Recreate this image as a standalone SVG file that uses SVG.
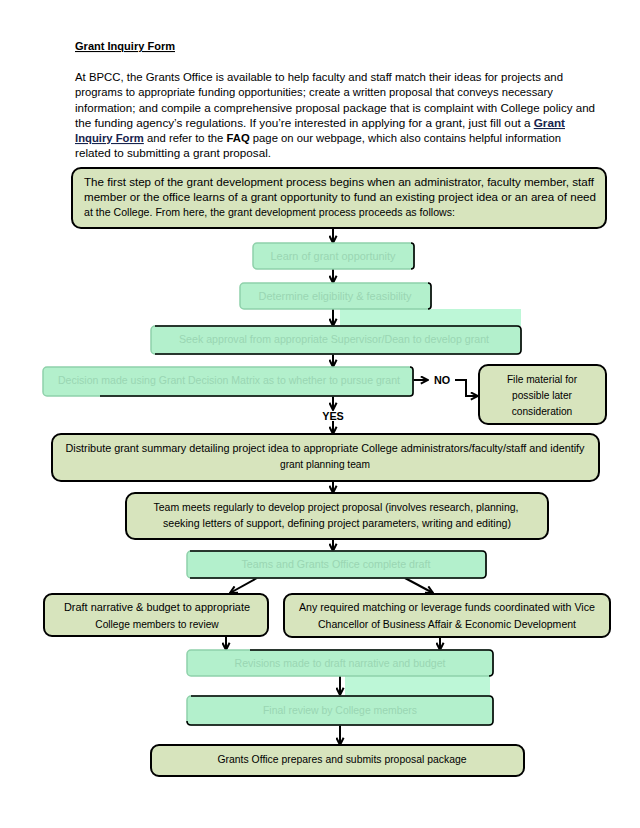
<svg xmlns="http://www.w3.org/2000/svg" width="640" height="828" viewBox="0 0 640 828">
<defs>
<marker id="ah" viewBox="0 0 10 10" refX="9" refY="5" markerWidth="9" markerHeight="9" markerUnits="userSpaceOnUse" orient="auto">
<path d="M1,1 L9,5 L1,9" fill="none" stroke="#000" stroke-width="2.2"/>
</marker>
<style>
.t{font-family:"Liberation Sans",Arial,sans-serif;font-size:10.8px;fill:#000}
.b{font-family:"Liberation Sans",Arial,sans-serif;font-size:10.2px;fill:#000;text-anchor:middle}
.m{font-family:"Liberation Sans",Arial,sans-serif;font-size:10.2px;fill:#9ad6b3;text-anchor:middle}
.olive{fill:#d7e4bd;stroke:#000;stroke-width:2}
.mint{fill:#b3f0cc;stroke:#8fd1aa;stroke-width:1.5}
.pale{fill:#bdf7d7}
.edge{fill:none;stroke:#000;stroke-width:1.6}
.c{fill:none;stroke:#000;stroke-width:2;marker-end:url(#ah)}
.lnk{font-weight:bold;fill:#17244d;text-decoration:underline}
</style>
</defs>
<rect width="640" height="828" fill="#fff"/>
<g id="header">
<text class="t" x="75" y="50" font-weight="bold" text-decoration="underline" textLength="100" lengthAdjust="spacingAndGlyphs">Grant Inquiry Form</text>
<text class="t" x="75" y="81" textLength="488" lengthAdjust="spacingAndGlyphs">At BPCC, the Grants Office is available to help faculty and staff match their ideas for projects and</text>
<text class="t" x="75" y="96" textLength="478" lengthAdjust="spacingAndGlyphs">programs to appropriate funding opportunities; create a written proposal that conveys necessary</text>
<text class="t" x="75" y="112" textLength="520" lengthAdjust="spacingAndGlyphs">information; and compile a comprehensive proposal package that is complaint with College policy and</text>
<text class="t" x="75" y="127" textLength="490" lengthAdjust="spacingAndGlyphs">the funding agency’s regulations.  If you’re interested in applying for a grant, just fill out a <tspan class="lnk">Grant</tspan></text>
<text class="t" x="75" y="142" textLength="486" lengthAdjust="spacingAndGlyphs"><tspan class="lnk">Inquiry Form</tspan> and refer to the <tspan font-weight="bold">FAQ</tspan> page on our webpage, which also contains helpful information</text>
<text class="t" x="75" y="157" textLength="196" lengthAdjust="spacingAndGlyphs">related to submitting a grant proposal.</text>
</g>
<g id="pale-artifacts">
<rect class="pale" x="340" y="309" width="181" height="17"/>
<rect class="pale" x="345" y="676" width="145" height="20"/>
</g>
<g id="connectors">
<line class="c" x1="333" y1="228" x2="333" y2="243"/>
<line class="c" x1="333" y1="269" x2="333" y2="283"/>
<line class="c" x1="333" y1="309" x2="333" y2="326"/>
<line class="c" x1="333" y1="354" x2="333" y2="367"/>
<line class="c" x1="413" y1="380" x2="428" y2="380"/>
<polyline class="c" points="455,380 466,380 466,396 478,396"/>
<line class="c" x1="333" y1="396" x2="333" y2="410"/>
<line class="c" x1="333" y1="421" x2="333" y2="434"/>
<line class="c" x1="333" y1="481" x2="333" y2="493"/>
<line class="c" x1="333" y1="539" x2="333" y2="551"/>
<line class="c" x1="257" y1="578" x2="230" y2="593"/>
<line class="c" x1="405" y1="578" x2="433" y2="593"/>
<line class="c" x1="226" y1="636" x2="226" y2="650"/>
<line class="c" x1="440" y1="637" x2="440" y2="650"/>
<line class="c" x1="340" y1="676" x2="340" y2="695"/>
<line class="c" x1="340" y1="725" x2="340" y2="745"/>
<text class="t" x="434" y="384" font-weight="bold" font-size="10">NO</text>
<text class="t" x="333" y="420" font-weight="bold" font-size="8.5" text-anchor="middle">YES</text>
</g>
<g id="n-start">
<rect class="olive" x="72" y="168" width="534" height="60" rx="9"/>
<text class="t" x="84" y="186" font-size="10.2" textLength="510" lengthAdjust="spacingAndGlyphs">The first step of the grant development process begins when an administrator, faculty member, staff</text>
<text class="t" x="84" y="201" font-size="10.2" textLength="512" lengthAdjust="spacingAndGlyphs">member or the office learns of a grant opportunity to fund an existing project idea or an area of need</text>
<text class="t" x="84" y="216" font-size="10.2" textLength="371" lengthAdjust="spacingAndGlyphs">at the College.  From here, the grant development process proceeds as follows:</text>
</g>
<g id="n-learn">
<rect class="mint" x="253" y="243" width="161" height="26" rx="4"/>
<path class="edge" d="M411,243 Q414,243 414,246 L414,266 Q414,269 411,269"/>
<text class="m" x="333" y="260" textLength="125" lengthAdjust="spacingAndGlyphs">Learn of grant opportunity</text>
</g>
<g id="n-determine">
<rect class="mint" x="240" y="283" width="191" height="26" rx="4"/>
<path class="edge" d="M428,283 Q431,283 431,286 L431,306 Q431,309 428,309"/>
<text class="m" x="335" y="300" textLength="153" lengthAdjust="spacingAndGlyphs">Determine eligibility &amp; feasibility</text>
</g>
<g id="n-seek">
<rect class="mint" x="151" y="326" width="370" height="28" rx="4"/>
<path class="edge" d="M155,326 L517,326 Q521,326 521,330 L521,350 Q521,354 517,354 L155,354"/>
<text class="m" x="334" y="343" textLength="310" lengthAdjust="spacingAndGlyphs">Seek approval from appropriate Supervisor/Dean to develop grant</text>
</g>
<g id="n-decision">
<rect class="mint" x="43" y="367" width="370" height="29" rx="4"/>
<path class="edge" d="M410,367 Q413,367 413,370 L413,393 Q413,396 410,396 L100,396"/>
<text class="m" x="229" y="384" textLength="342" lengthAdjust="spacingAndGlyphs">Decision made using Grant Decision Matrix as to whether to pursue grant</text>
</g>
<g id="n-file">
<rect class="olive" x="479" y="365" width="127" height="59" rx="9"/>
<text class="b" x="542" y="383">File material for</text>
<text class="b" x="542" y="399">possible later</text>
<text class="b" x="542" y="415">consideration</text>
</g>
<g id="n-distribute">
<rect class="olive" x="52" y="434" width="547" height="47" rx="9"/>
<text class="b" x="325" y="452" textLength="519" lengthAdjust="spacingAndGlyphs">Distribute grant summary detailing project idea to appropriate College administrators/faculty/staff and identify</text>
<text class="b" x="325" y="468">grant planning team</text>
</g>
<g id="n-team">
<rect class="olive" x="126" y="493" width="422" height="46" rx="9"/>
<text class="b" x="336" y="511" textLength="365" lengthAdjust="spacingAndGlyphs">Team meets regularly to develop project proposal (involves research, planning,</text>
<text class="b" x="337" y="527" textLength="348" lengthAdjust="spacingAndGlyphs">seeking letters of support, defining project parameters, writing and editing)</text>
</g>
<g id="n-complete">
<rect class="mint" x="187" y="551" width="299" height="27" rx="4"/>
<path class="edge" d="M190,551 L482,551 Q486,551 486,555 L486,574 Q486,578 482,578 L190,578"/>
<text class="m" x="336" y="568" textLength="189" lengthAdjust="spacingAndGlyphs">Teams and Grants Office complete draft</text>
</g>
<g id="n-draft">
<rect class="olive" x="44" y="594" width="224" height="42" rx="8"/>
<text class="b" x="157" y="611" textLength="186" lengthAdjust="spacingAndGlyphs">Draft narrative &amp; budget to appropriate</text>
<text class="b" x="157" y="628">College members to review</text>
</g>
<g id="n-matching">
<rect class="olive" x="284" y="594" width="326" height="43" rx="8"/>
<text class="b" x="447" y="611" textLength="296" lengthAdjust="spacingAndGlyphs">Any required matching or leverage funds coordinated with Vice</text>
<text class="b" x="447" y="628" textLength="258" lengthAdjust="spacingAndGlyphs">Chancellor of Business Affair &amp; Economic Development</text>
</g>
<g id="n-revisions">
<rect class="mint" x="187" y="650" width="306" height="26" rx="4"/>
<path class="edge" d="M250,650 L489,650 Q493,650 493,654 L493,672 Q493,676 489,676"/>
<text class="m" x="340" y="667" textLength="211" lengthAdjust="spacingAndGlyphs">Revisions made to draft narrative and budget</text>
</g>
<g id="n-final">
<rect class="mint" x="187" y="696" width="306" height="29" rx="4"/>
<path class="edge" d="M191,696 L489,696 Q493,696 493,700 L493,721 Q493,725 489,725 L191,725 Q187,725 187,721"/>
<text class="m" x="340" y="714" textLength="154" lengthAdjust="spacingAndGlyphs">Final review by College members</text>
</g>
<g id="n-submit">
<rect class="olive" x="151" y="745" width="373" height="31" rx="8"/>
<text class="b" x="342" y="763" textLength="249" lengthAdjust="spacingAndGlyphs">Grants Office prepares and submits proposal package</text>
</g>
</svg>
